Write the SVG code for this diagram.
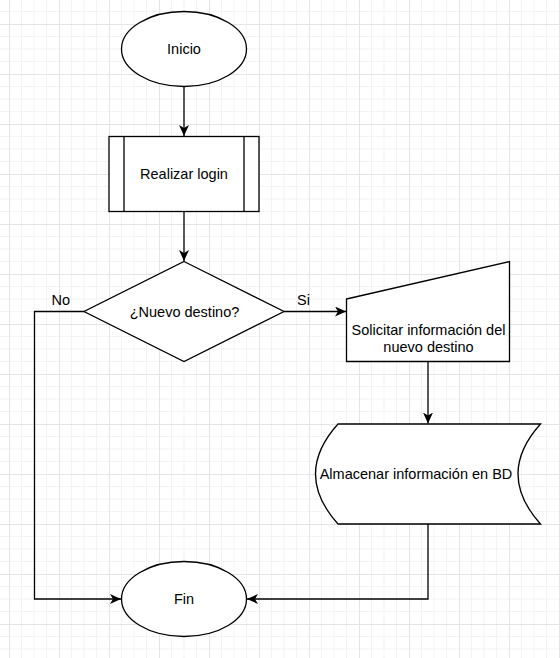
<svg xmlns="http://www.w3.org/2000/svg" width="560" height="658" viewBox="0 0 560 658">
<style>
.shape{fill:#fff;stroke:#000;stroke-width:1.3}
.edge{fill:none;stroke:#000;stroke-width:1.3}
.t{font-family:"Liberation Sans",Arial,sans-serif;font-size:14.5px;fill:#000;text-anchor:middle}
.lbl{font-family:"Liberation Sans",Arial,sans-serif;font-size:14.5px;fill:#000}
</style>
<defs>
<pattern id="grid" x="9" y="24" width="50" height="50" patternUnits="userSpaceOnUse">
<path d="M12.5,0V50M25,0V50M37.5,0V50M0,12.5H50M0,25H50M0,37.5H50" stroke="#f3f3f3" stroke-width="1" fill="none"/>
<path d="M0.5,0V50M0,0.5H50" stroke="#e4e4e4" stroke-width="1" fill="none"/>
</pattern>
<marker id="arr" markerUnits="userSpaceOnUse" viewBox="0 0 11 10" refX="11" refY="5" markerWidth="11" markerHeight="10" orient="auto">
<path d="M0,0 L11,5 L0,10 L3,5 Z" fill="#000"/>
</marker>
</defs>
<rect width="560" height="658" fill="#fff"/>
<rect width="560" height="658" fill="url(#grid)"/>
<g id="connectors">
<path class="edge" d="M184,86.5 V136" marker-end="url(#arr)"/>
<path class="edge" d="M184,211.5 V261" marker-end="url(#arr)"/>
<path class="edge" d="M84,311.5 H34.5 V599 H121" marker-end="url(#arr)"/>
<path class="edge" d="M284,311.5 H346" marker-end="url(#arr)"/>
<path class="edge" d="M428,361.5 V423.5" marker-end="url(#arr)"/>
<path class="edge" d="M428,524 V599 H247" marker-end="url(#arr)"/>
<text class="lbl" x="51.5" y="305">No</text>
<text class="lbl" x="297" y="305">Si</text>
</g>
<g id="inicio">
<ellipse class="shape" cx="184" cy="49" rx="62.5" ry="37.5"/>
<text class="t" x="184" y="54.3">Inicio</text>
</g>
<g id="login">
<rect class="shape" x="109" y="136.5" width="150" height="75"/>
<path class="edge" d="M124,136.5 V211.5 M244,136.5 V211.5"/>
<text class="t" x="184" y="179.3">Realizar login</text>
</g>
<g id="decision">
<polygon class="shape" points="184,261.5 284,311.5 184,361.5 84,311.5"/>
<text class="t" x="184.5" y="316.5">¿Nuevo destino?</text>
</g>
<g id="solicitar">
<polygon class="shape" points="346.5,299 509.5,261.5 509.5,361.5 346.5,361.5"/>
<text class="t" x="428.5" y="335.3">Solicitar información del</text>
<text class="t" x="428.5" y="352.3">nuevo destino</text>
</g>
<g id="almacenar">
<path class="shape" d="M338,424 H540.5 Q495.5,474 540.5,524 H338 Q293,474 338,424 Z"/>
<text class="t" x="416" y="479">Almacenar información en BD</text>
</g>
<g id="fin">
<ellipse class="shape" cx="184" cy="599" rx="62.5" ry="37.5"/>
<text class="t" x="184" y="604.3">Fin</text>
</g>
</svg>
